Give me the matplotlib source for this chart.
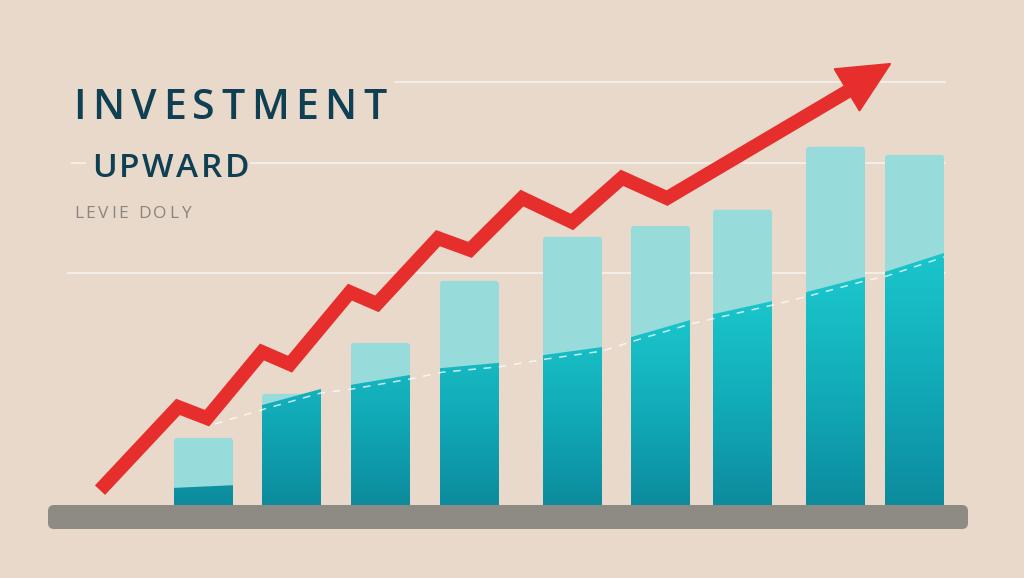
import numpy as np
import matplotlib.pyplot as plt
from matplotlib.colors import LinearSegmentedColormap
from matplotlib.patches import FancyBboxPatch, Polygon

# chart values (0 = top of the base platform)
bar_left = [174, 262, 351, 440, 543, 631, 713, 806, 885]
bar_total = [14.9, 24.7, 36.0, 49.8, 59.6, 62.0, 65.6, 79.6, 77.8]
core_start = [3.8, 22.2, 26.7, 30.4, 33.3, 37.3, 42.4, 47.3, 51.8]
core_end = [4.4, 25.8, 28.9, 31.6, 35.1, 41.1, 45.3, 50.7, 56.0]

# red zigzag trend
trend_x = [100, 178, 207, 262, 290, 350, 377, 438, 470, 522, 572, 622, 667, 855]
trend_y = [3.3, 21.8, 19.3, 34.0, 31.3, 47.3, 44.7, 59.3, 56.7, 68.2, 62.9, 72.7, 68.2, 92.9]
tip_x, tip_y = 890, 98.0

grid_y = [94.0, 76.0, 51.6]
grid_x0 = [395, 72, 68]

bg = '#e8d9cb'
light = '#97dbdb'
red = '#e62e2d'
navy = '#0f3f52'

scale = 4.5      # px per unit
base_px = 505
bar_w = 59

fig = plt.figure(figsize=(10.24, 5.78), dpi=100)
fig.patch.set_facecolor(bg)
ax = fig.add_axes([0, 0, 1, 1])
ax.set_facecolor(bg)
ax.set_xlim(0, 1024)
ax.set_ylim(-(578 - base_px) / scale, base_px / scale)
ax.axis('off')


def tracked(x, y, s, track, **kw):
    # letter-spaced text, x advances in pixels (x units are pixels here)
    r = fig.canvas.get_renderer()
    for ch in s:
        t = ax.text(x, y, ch, va='baseline', **kw)
        if ch == ' ':
            w = t.get_fontsize() * 0.26 * 100 / 72
        else:
            w = t.get_window_extent(r).width
        x += w + track


# faint guide lines
for gy, gx in zip(grid_y, grid_x0):
    ax.plot([gx, 945], [gy, gy], color='#f6f0e8', lw=1.3, zorder=1)

# bars
cmap = LinearSegmentedColormap.from_list('teal', ['#0c8a9c', '#12abb8', '#1ac6cb'])
grad = np.linspace(0, 1, 256).reshape(-1, 1)
core_top = max(core_end)
for x0, tot, c0, c1 in zip(bar_left, bar_total, core_start, core_end):
    box = FancyBboxPatch((x0, -1), bar_w, tot + 1,
                         boxstyle='round,pad=0,rounding_size=3',
                         mutation_aspect=1 / scale,
                         fc=light, ec='none', zorder=2)
    ax.add_patch(box)
    core = Polygon([(x0, -1), (x0 + bar_w, -1), (x0 + bar_w, c1), (x0, c0)],
                   closed=True, fc='none', ec='none')
    ax.add_patch(core)
    im = ax.imshow(grad, cmap=cmap, origin='lower', aspect='auto',
                   extent=[x0, x0 + bar_w, -1, max(c0, c1, core_top * 0.75)], zorder=3)
    im.set_clip_path(core)

# dashed line along the top of the dark part
dash_x = [215]
dash_y = [18.0]
for x0, c0, c1 in zip(bar_left[1:], core_start[1:], core_end[1:]):
    dash_x += [x0 + 2, x0 + bar_w]
    dash_y += [c0 - 0.9, c1 - 0.9]
ax.plot(dash_x, dash_y, color='white', lw=1.1, alpha=0.75,
        dashes=(5, 5), zorder=4)

# base platform
plat = FancyBboxPatch((48, -(529 - base_px) / scale), 920, (529 - base_px) / scale,
                      boxstyle='round,pad=0,rounding_size=6',
                      mutation_aspect=1 / scale,
                      fc='#8e8a84', ec='none', zorder=5)
ax.add_patch(plat)

# red arrow
ax.plot(trend_x + [tip_x - 20], trend_y + [tip_y - 3], color=red, lw=10,
        solid_joinstyle='miter', solid_capstyle='butt', zorder=6)
dx = tip_x - trend_x[-2]
dy = -(tip_y - trend_y[-2]) * scale
n = np.hypot(dx, dy)
ux, uy = dx / n, dy / n
tip_px = np.array([tip_x, base_px - tip_y * scale])
base_c = tip_px - 50 * np.array([ux, uy])
perp = np.array([-uy, ux]) * 24
head_px = [tip_px, base_c + perp, base_c - perp]
head = [(p[0], (base_px - p[1]) / scale) for p in head_px]
ax.add_patch(Polygon(head, closed=True, fc=red, ec=red, lw=1.5,
                     joinstyle='round', zorder=7))

# titles
tracked(73, (base_px - 119) / scale, 'INVESTMENT', 6.5, color=navy, fontsize=29.5,
        family='Open Sans', weight='semibold', zorder=8)
ax.add_patch(FancyBboxPatch((86, (base_px - 182) / scale), 164, 34 / scale,
                            boxstyle='square,pad=0', fc=bg, ec='none', zorder=7))
tracked(92, (base_px - 177) / scale, 'UPWARD', 2.5, color=navy, fontsize=24,
        family='Open Sans', weight='semibold', zorder=8)
tracked(74, (base_px - 218) / scale, 'LEVIE DOLY', 2.6, color='#8a8580', fontsize=12.5,
        family='Open Sans', zorder=8)

fig.savefig('out.png', dpi=100, facecolor=bg)
